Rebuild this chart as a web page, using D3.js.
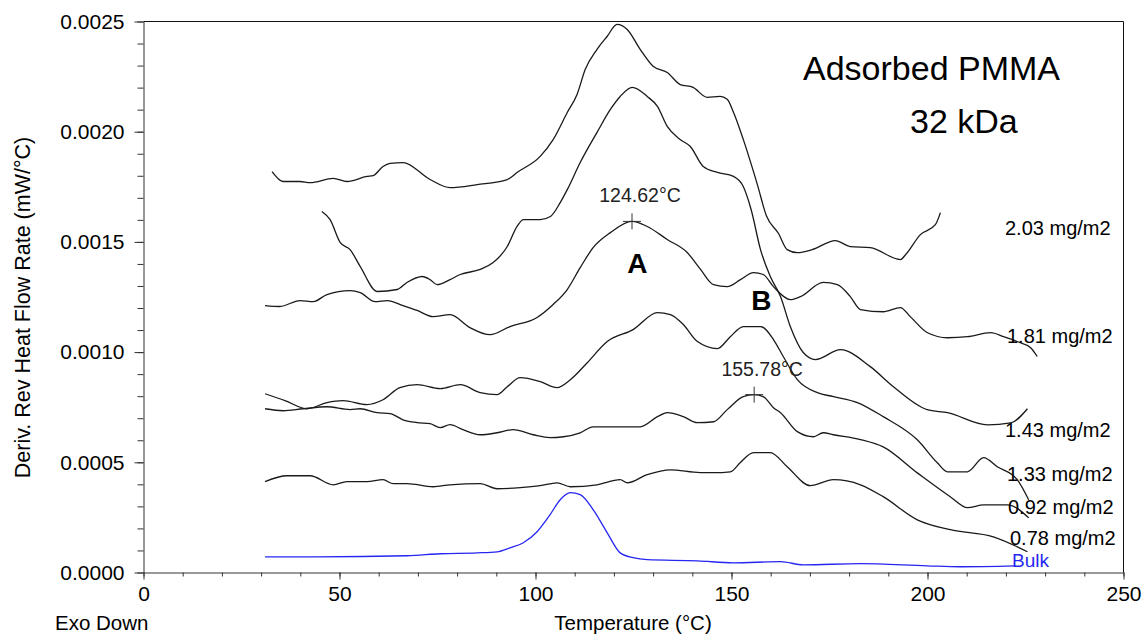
<!DOCTYPE html>
<html><head><meta charset="utf-8">
<script src="https://cdn.jsdelivr.net/npm/d3@7"></script>
<style>
html,body{margin:0;padding:0;background:#fff;}
svg{display:block;font-family:"Liberation Sans",Arial,sans-serif;}
</style></head><body>
<svg id="chart" width="1144" height="634"></svg>
<script>
// ---------- data ----------
const xTicks = [0, 50, 100, 150, 200, 250];
const yTicks = [0, 0.0005, 0.0010, 0.0015, 0.0020, 0.0025];
const seriesNames = ["2.03 mg/m2", "1.81 mg/m2", "1.43 mg/m2", "1.33 mg/m2", "0.92 mg/m2", "0.78 mg/m2", "Bulk"];

const s203 = [[32.8,0.001819],[35.6,0.001774],[39.9,0.001774],[42.5,0.001769],[48.4,0.001788],[51.9,0.001774],[57.0,0.001797],[58.6,0.001801],[61.1,0.001842],[62.9,0.001856],[66.2,0.001860],[73.1,0.001783],[78.2,0.001746],[85.1,0.001760],[92.8,0.001783],[95.3,0.001815],[101.2,0.001888],[104.5,0.001964],[108.1,0.002087],[110.6,0.002169],[112.7,0.002283],[115.7,0.002374],[118.3,0.002433],[120.8,0.002487],[123.4,0.002464],[126.7,0.002374],[130.0,0.002297],[133.6,0.002269],[136.9,0.002214],[140.2,0.002201],[143.8,0.002156],[147.1,0.002160],[148.9,0.002147],[150.5,0.002088],[153.0,0.001965],[156.6,0.001760],[158.9,0.001619],[162.0,0.001538],[164.2,0.001465],[166.8,0.001451],[170.6,0.001465],[176.5,0.001506],[180.3,0.001479],[185.4,0.001474],[193.1,0.001420],[194.4,0.001442],[198.2,0.001533],[202.0,0.001578],[203.3,0.001633]];

const s181 = [[31.0,0.001211],[34.8,0.001207],[39.9,0.001234],[43.3,0.001229],[46.8,0.001261],[52.7,0.001279],[55.3,0.001270],[59.1,0.001229],[62.2,0.001234],[66.2,0.001211],[69.8,0.001189],[73.9,0.001161],[78.2,0.001170],[83.3,0.001111],[88.4,0.001079],[93.5,0.001116],[100.4,0.001157],[104.5,0.001216],[108.1,0.001284],[111.4,0.001383],[114.7,0.001474],[119.1,0.001542],[124.6,0.001593],[128.5,0.001570],[133.6,0.001511],[138.7,0.001452],[142.1,0.001375],[145.4,0.001306],[148.9,0.001297],[152.3,0.001329],[155.6,0.001361],[158.1,0.001352],[160.7,0.001297],[165.0,0.001238],[167.6,0.001252],[173.4,0.001316],[177.0,0.001306],[180.3,0.001252],[182.9,0.001193],[188.7,0.001183],[193.1,0.001202],[195.6,0.001161],[200.0,0.001088],[205.1,0.001065],[210.2,0.001070],[216.1,0.001088],[219.4,0.001070],[223.0,0.001047],[226.3,0.001020],[228.0,0.000980]];

const s143 = [[45.5,0.001638],[47.6,0.001601],[50.2,0.001497],[52.7,0.001465],[55.3,0.001388],[59.6,0.001275],[64.7,0.001284],[67.2,0.001316],[71.1,0.001343],[73.1,0.001329],[74.9,0.001306],[78.2,0.001329],[80.8,0.001352],[85.9,0.001375],[89.2,0.001406],[92.8,0.001479],[95.3,0.001570],[96.9,0.001601],[101.2,0.001601],[103.8,0.001615],[106.3,0.001678],[108.1,0.001737],[111.4,0.001860],[115.7,0.001997],[119.1,0.002101],[121.6,0.002160],[124.7,0.002201],[128.5,0.002160],[131.1,0.002115],[133.6,0.002024],[136.9,0.001965],[139.5,0.001933],[142.8,0.001842],[146.4,0.001815],[150.5,0.001797],[153.0,0.001751],[155.0,0.001647],[157.4,0.001465],[159.9,0.001343],[162.5,0.001252],[165.0,0.001116],[168.3,0.000998],[171.4,0.000966],[177.8,0.001011],[185.4,0.000934],[191.3,0.000843],[199.9,0.000739],[205.1,0.000725],[215.3,0.000670],[221.2,0.000679],[225.5,0.000743]];

const s133 = [[31.0,0.000811],[36.1,0.000780],[41.7,0.000743],[46.8,0.000771],[50.9,0.000780],[57.0,0.000762],[61.1,0.000784],[65.4,0.000839],[69.8,0.000852],[75.7,0.000834],[80.8,0.000852],[85.9,0.000816],[90.2,0.000807],[92.8,0.000843],[96.1,0.000884],[101.2,0.000866],[105.5,0.000839],[108.9,0.000875],[113.2,0.000952],[118.3,0.001048],[124.9,0.001102],[131.1,0.001179],[134.4,0.001170],[137.7,0.001125],[141.3,0.001048],[146.4,0.001016],[149.7,0.001070],[153.0,0.001116],[157.4,0.001116],[160.7,0.001057],[163.2,0.000980],[166.8,0.000875],[171.9,0.000816],[176.0,0.000798],[182.1,0.000771],[188.7,0.000707],[197.4,0.000602],[202.5,0.000498],[205.1,0.000457],[210.2,0.000457],[214.3,0.000521],[217.8,0.000480],[222.9,0.000421],[225.8,0.000330]];

const s092 = [[31.0,0.000743],[35.6,0.000734],[40.7,0.000743],[46.8,0.000752],[52.7,0.000739],[55.3,0.000743],[59.6,0.000725],[62.9,0.000721],[66.2,0.000693],[69.8,0.000680],[73.1,0.000675],[75.7,0.000657],[78.2,0.000671],[81.5,0.000648],[85.9,0.000625],[90.2,0.000634],[94.3,0.000648],[99.4,0.000625],[103.7,0.000612],[107.1,0.000616],[111.4,0.000634],[114.7,0.000661],[121.6,0.000661],[126.7,0.000661],[131.1,0.000707],[133.6,0.000725],[137.7,0.000707],[141.3,0.000680],[145.4,0.000684],[148.9,0.000739],[153.0,0.000798],[155.8,0.000807],[158.1,0.000798],[160.7,0.000748],[162.5,0.000725],[166.8,0.000639],[170.9,0.000616],[173.4,0.000634],[176.0,0.000625],[182.9,0.000603],[188.7,0.000570],[197.4,0.000452],[205.8,0.000344],[210.2,0.000294],[214.3,0.000307],[220.4,0.000307],[225.8,0.000248]];

const s078 = [[31.0,0.000412],[36.6,0.000439],[42.5,0.000439],[48.4,0.000398],[51.9,0.000412],[57.0,0.000412],[61.1,0.000421],[63.7,0.000403],[67.2,0.000403],[73.9,0.000389],[78.2,0.000398],[85.9,0.000403],[90.2,0.000380],[96.1,0.000385],[101.2,0.000394],[105.5,0.000407],[108.9,0.000389],[115.7,0.000398],[121.6,0.000421],[123.4,0.000407],[128.5,0.000444],[134.4,0.000466],[142.0,0.000453],[145.4,0.000453],[149.7,0.000457],[152.2,0.000498],[155.6,0.000544],[159.9,0.000544],[164.2,0.000480],[170.1,0.000394],[176.0,0.000421],[182.9,0.000398],[188.7,0.000344],[197.4,0.000239],[205.8,0.000194],[216.8,0.000162],[225.5,0.000094]];

const sBulk = [[31.0,0.000071],[44.3,0.000071],[67.2,0.000076],[75.7,0.000085],[85.1,0.000089],[90.2,0.000094],[93.5,0.000112],[96.9,0.000135],[100.4,0.000185],[103.7,0.000262],[106.3,0.000330],[108.9,0.000362],[111.4,0.000353],[114.7,0.000285],[118.3,0.000180],[121.6,0.000089],[124.9,0.000067],[128.5,0.000058],[141.3,0.000053],[150.5,0.000044],[162.5,0.000049],[168.3,0.000035],[182.9,0.000040],[199.9,0.000030],[208.4,0.000026],[222.4,0.000030]];

const peakTemps = [124.62, 155.78];
const peakValues = [0.001593, 0.000807];
const peakLabels = ["124.62°C", "155.78°C"];

// ---------- drawing ----------
const svg = d3.select("#chart");
const x = d3.scaleLinear().domain([0, 250]).range([143.5, 1123.5]);
const y = d3.scaleLinear().domain([0, 0.0025]).range([572.5, 21.5]);

const axisColor = "#333";

// minor ticks
svg.append("g").attr("transform", "translate(0,572.5)")
  .call(d3.axisBottom(x).tickValues(d3.range(0, 251, 10)).tickSize(4).tickFormat(""))
  .call(g => { g.select(".domain").remove(); g.selectAll("line").attr("stroke", axisColor); });
svg.append("g").attr("transform", "translate(143.5,0)")
  .call(d3.axisLeft(y).tickValues(d3.range(0, 26).map(i => i * 0.0001)).tickSize(6).tickFormat(""))
  .call(g => { g.select(".domain").remove(); g.selectAll("line").attr("stroke", axisColor); });

// major axes
svg.append("g").attr("transform", "translate(0,572.5)")
  .call(d3.axisBottom(x).tickValues(xTicks).tickSize(7).tickPadding(7).tickSizeOuter(0).tickFormat(d3.format("d")))
  .call(g => {
    g.select(".domain").attr("stroke", axisColor);
    g.selectAll("line").attr("stroke", axisColor);
    g.selectAll("text").attr("font-size", 21).attr("fill", "#000").attr("font-family", "Liberation Sans, Arial, sans-serif");
  });
svg.append("g").attr("transform", "translate(143.5,0)")
  .call(d3.axisLeft(y).tickValues(yTicks).tickSize(9).tickPadding(10).tickSizeOuter(0).tickFormat(d3.format(".4f")))
  .call(g => {
    g.select(".domain").attr("stroke", axisColor);
    g.selectAll("line").attr("stroke", axisColor);
    g.selectAll("text").attr("font-size", 21).attr("fill", "#000").attr("font-family", "Liberation Sans, Arial, sans-serif");
  });

// frame top & right
svg.append("line").attr("x1", x(0)).attr("x2", x(250)).attr("y1", y(0.0025)).attr("y2", y(0.0025)).attr("stroke", "#111").attr("stroke-width", 1);
svg.append("line").attr("x1", x(250)).attr("x2", x(250)).attr("y1", y(0.0025)).attr("y2", y(0)).attr("stroke", "#111").attr("stroke-width", 1);

// curves
const line = d3.line().x(d => x(d[0])).y(d => y(d[1])).curve(d3.curveMonotoneX);
const allSeries = [s203, s181, s143, s133, s092, s078, sBulk];
allSeries.forEach((s, i) => {
  svg.append("path").datum(s).attr("d", line)
    .attr("fill", "none")
    .attr("stroke", i === 6 ? "#2626f2" : "#1a1a1a")
    .attr("stroke-width", 1.3);
});

// peak markers
peakTemps.forEach((t, i) => {
  const px = x(t), py = y(peakValues[i]);
  svg.append("line").attr("x1", px - 9).attr("x2", px + 9).attr("y1", py).attr("y2", py).attr("stroke", "#333").attr("stroke-width", 1);
  svg.append("line").attr("x1", px).attr("x2", px).attr("y1", py - 8).attr("y2", py + 8).attr("stroke", "#333").attr("stroke-width", 1);
  svg.append("text").attr("x", px + 8).attr("y", py - 19)
    .attr("text-anchor", "middle").attr("font-size", 19.5).attr("fill", "#222").text(peakLabels[i]);
});

// A / B annotations
svg.append("text").attr("x", x(126.0)).attr("y", y(0.001361)).attr("text-anchor", "middle")
  .attr("font-size", 28).attr("font-weight", "bold").text("A");
svg.append("text").attr("x", x(157.6)).attr("y", y(0.001193)).attr("text-anchor", "middle")
  .attr("font-size", 28).attr("font-weight", "bold").text("B");

// series labels
const labelPos = [[1005,235],[1007,343],[1005,437],[1007,481],[1008,514],[1010,545],[1012,567]];
seriesNames.forEach((n, i) => {
  svg.append("text").attr("x", labelPos[i][0]).attr("y", labelPos[i][1])
    .attr("font-size", i === 6 ? 19 : 20).attr("fill", i === 6 ? "#2626f2" : "#000").text(n);
});

// title annotation
svg.append("text").attr("x", 803).attr("y", 80).attr("font-size", 34).text("Adsorbed PMMA");
svg.append("text").attr("x", 910).attr("y", 133).attr("font-size", 34).text("32 kDa");

// axis titles
svg.append("text").attr("transform", "translate(30,307.5) rotate(-90)").attr("text-anchor", "middle")
  .attr("font-size", 21.5).text("Deriv. Rev Heat Flow Rate (mW/°C)");
svg.append("text").attr("x", 633).attr("y", 630).attr("text-anchor", "middle").attr("font-size", 20.5).text("Temperature (°C)");
svg.append("text").attr("x", 55).attr("y", 630).attr("font-size", 20.5).text("Exo Down");
</script>
</body></html>
